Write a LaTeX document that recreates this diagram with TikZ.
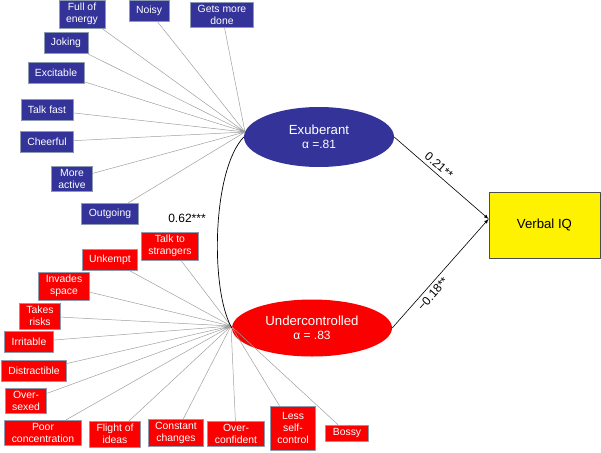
\documentclass[tikz,border=0pt]{standalone}
\usepackage{fontspec}
\setmainfont{Liberation Sans}
\usepackage{tikz}
\tikzset{>=latex}
\usetikzlibrary{shapes,arrows}
\usetikzlibrary{calc}
\definecolor{exublue}{RGB}{51,51,153}
\definecolor{undred}{RGB}{250,0,0}
\definecolor{boxedge}{RGB}{140,155,175}
\tikzset{
  itembox/.style={draw=boxedge,line width=0.8pt,text=white,align=center,inner xsep=7pt,inner ysep=3pt,minimum height=21pt,font=\fontsize{10.4}{12.3}\selectfont},
  exbox/.style={itembox,fill=exublue},
  unbox/.style={itembox,fill=undred},
  factor/.style={ellipse,text=white,align=center,font=\fontsize{13.2}{14.5}\selectfont},
  spoke/.style={color=gray!75,line width=0.5pt},
  coef/.style={font=\fontsize{12}{14}\selectfont},
}

\begin{document}
\begin{tikzpicture}[line cap=round,line join=round,x=1pt,y=-1pt]
			\useasboundingbox (0,0) rectangle (601,452);
			% exuberant items
			\node[exbox] (energy) at (82,14) {Full of\\energy};
			\node[exbox] (noisy) at (149,11) {Noisy};
			\node[exbox] (done) at (222,15) {Gets more\\done};
			\node[exbox] (joking) at (66,43) {Joking};
			\node[exbox] (excit) at (56,73) {Excitable};
			\node[exbox] (fast) at (47,110) {Talk fast};
			\node[exbox] (cheer) at (47,142) {Cheerful};
			\node[exbox] (active) at (72,179) {More\\active};
			\node[exbox] (outgo) at (110,214) {Outgoing};
			% undercontrolled items
			\node[unbox] (strang) at (170,246) {Talk to\\strangers};
			\node[unbox] (unkempt) at (110,260) {Unkempt};
			\node[unbox] (invade) at (64,286) {Invades\\space};
			\node[unbox] (risks) at (40,316) {Takes\\risks};
			\node[unbox] (irrit) at (29,342) {Irritable};
			\node[unbox] (distr) at (34,371) {Distractible};
			\node[unbox] (sexed) at (26,401) {Over-\\sexed};
			\node[unbox] (conc) at (43,433) {Poor\\concentration};
			\node[unbox] (ideas) at (115,434) {Flight of\\ideas};
			\node[unbox] (change) at (176,433) {Constant\\changes};
			\node[unbox] (confid) at (236,434) {Over-\\confident};
			\node[unbox,minimum height=44pt] (selfc) at (293,428) {Less\\self-\\control};
			\node[unbox,minimum height=16pt] (bossy) at (347,433) {Bossy};
			% latent factors and outcome
			\node[factor,fill=exublue,minimum width=150pt,minimum height=60pt] (exu) at (319,137) {Exuberant\\{\fontsize{12}{14}\selectfont α =.81}};
			\node[factor,fill=undred,minimum width=160pt,minimum height=57pt] (und) at (312,328) {Undercontrolled\\{\fontsize{12}{14}\selectfont α = .83}};
			\node[draw=black!70,line width=0.8pt,fill=yellow,minimum width=111pt,minimum height=66pt,font=\fontsize{13.2}{14.5}\selectfont] (iq) at (544.5,225) {Verbal IQ};
			\coordinate (hubE) at (245,132);
			\coordinate (hubU) at (231,326);
			% loadings
			\draw[spoke] (energy) -- (hubE) (noisy) -- (hubE) (done) -- (hubE) (joking) -- (hubE)
				(excit) -- (hubE) (fast) -- (hubE) (cheer) -- (hubE) (active) -- (hubE) (outgo) -- (hubE);
			\draw[spoke] (strang) -- (hubU) (unkempt) -- (hubU) (invade) -- (hubU) (risks) -- (hubU)
				(irrit) -- (hubU) (distr) -- (hubU) (sexed) -- (hubU) (conc) -- (hubU) (ideas) -- (hubU)
				(change) -- (hubU) (confid) -- (hubU) (selfc) -- (hubU) (bossy) -- (hubU);
			% correlation and paths
			\draw[line width=0.7pt] (exu.west) .. controls (212,170) and (210,290) .. (und.west);
			\node[coef] (corr) at (187,218) {0.62***};
			\draw[->,line width=0.6pt] (exu.east) -- node[coef,sloped,above,pos=0.42] {0.21**} ([yshift=6pt]iq.west);
			\draw[->,line width=0.6pt] (und.east) -- node[coef,sloped,below,pos=0.36] {−0.18**} ([yshift=6pt]iq.west);
			\end{tikzpicture}
\end{document}
